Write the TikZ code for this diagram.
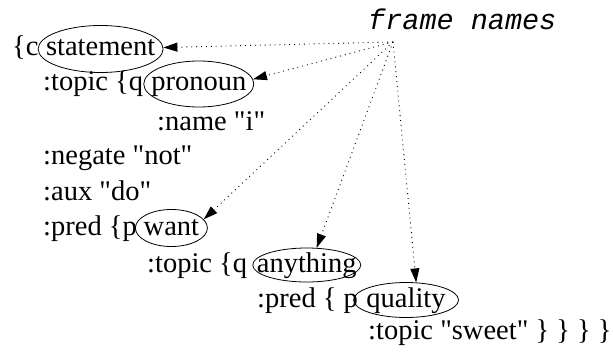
\documentclass[tikz,border=0pt]{standalone}
\usepackage{fontspec}
\setmainfont{Liberation Serif}[Ligatures=TeXOff]
\setmonofont{Liberation Mono}
\usetikzlibrary{arrows.meta,positioning,shapes.geometric}

\begin{document}
\begin{tikzpicture}[x=1pt,y=-1pt,font=\fontsize{28.5}{34}\selectfont,
        word/.style = {inner sep=0pt, anchor=base west},
        fname/.style = {draw, ellipse, line width=0.8pt, inner sep=0pt, text height=14pt, text depth=0pt},
        ptr/.style = {line width=0.9pt, dash pattern=on 0.9pt off 4pt, -{Triangle[length=14pt,width=9pt]}}]
        \useasboundingbox (0,0) rectangle (613,353);

        \node[word](c1) at (12,56) {\{c};
        \node[fname, minimum width=125pt, minimum height=47pt](statement)[base right=-1pt of c1]{\makebox[0pt]{statement}};
        \node[word](q1) at (43,91) {:topic \{q};
        \node[fname, minimum width=110pt, minimum height=46pt](pronoun)[base right=0pt of q1]{\makebox[0pt]{pronoun}};
        \node[word](name) at (157,130) {:name "i"};
        \node[word](negate) at (43,164) {:negate "not"};
        \node[word](aux) at (43,200) {:aux "do"};
        \node[word](p1) at (43,235) {:pred \{p};
        \node[fname, minimum width=72pt, minimum height=37pt](want)[base right=-2pt of p1]{\makebox[0pt]{want}};
        \node[word](q2) at (147,272) {:topic \{q};
        \node[fname, minimum width=108pt, minimum height=34pt](anything)[base right=5pt of q2]{\makebox[0pt]{anything}};
        \node[word](p2) at (257,307) {:pred \{ p};
        \node[fname, minimum width=105pt, minimum height=35pt](quality)[base right=-5pt of p2]{\makebox[0pt]{quality}};
        \node[word](sweet) at (368,339) {:topic "sweet" \} \} \} \}};

        \node[word, font=\fontsize{28.5}{34}\selectfont\ttfamily\itshape](names) at (368,30) {frame names};
        \coordinate (src) at (393,42);

        \path[ptr]
        (src) edge (statement)
        (src) edge (pronoun.5)
        (src) edge (want.15)
        (src) edge (anything.60)
        (src) edge (quality.60)
        ;
      \end{tikzpicture}
\end{document}
